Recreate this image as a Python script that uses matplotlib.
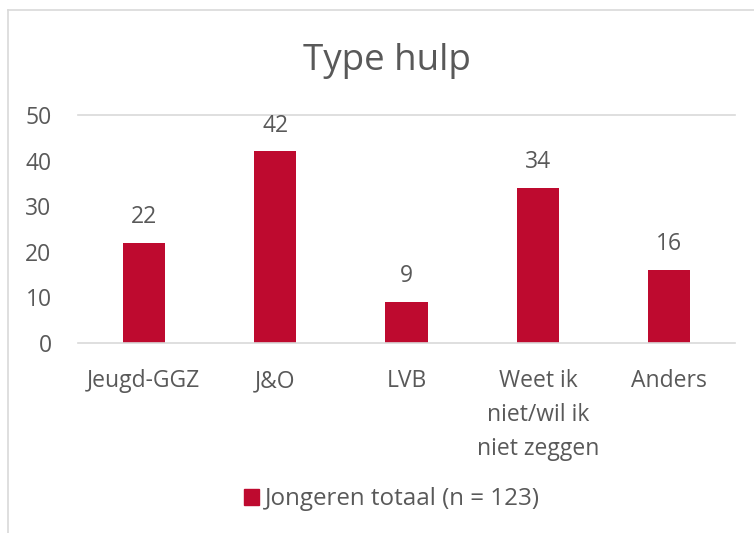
import matplotlib
matplotlib.use("Agg")
import matplotlib.pyplot as plt
from matplotlib.lines import Line2D
from matplotlib.patches import Patch

plt.rcParams["font.family"] = ["Open Sans", "DejaVu Sans"]

categories = ["Jeugd-GGZ", "J&O", "LVB", "Weet ik\nniet/wil ik\nniet zeggen", "Anders"]
values = [22, 42, 9, 34, 16]
series_name = "Jongeren totaal (n = 123)"
yticks = [0, 10, 20, 30, 40, 50]

BAR = "#BE0A2F"
TXT = "#595959"
GRID = "#d9d9d9"

fig = plt.figure(figsize=(7.54, 5.33), dpi=100)
ax = fig.add_axes([0.1034, 0.3565, 0.8714, 0.4277])

x = list(range(len(categories)))
bars = ax.bar(x, values, width=0.32, color=BAR, zorder=2)
for b, v in zip(bars, values):
    ax.annotate(str(v), (b.get_x() + b.get_width() / 2, v), xytext=(0, 10),
                textcoords="offset points", ha="center", va="bottom",
                fontsize=16.5, color=TXT)

ax.set_xlim(-0.5, len(categories) - 0.5)
ax.set_ylim(0, 50)
ax.set_yticks(yticks)
ax.set_xticks(x)
ax.set_xticklabels(categories, linespacing=1.55)
ax.tick_params(axis="both", length=0, labelsize=16.5, colors=TXT)
ax.tick_params(axis="y", pad=19)
ax.tick_params(axis="x", pad=19)

for s in ["left", "right"]:
    ax.spines[s].set_visible(False)
for s in ["top", "bottom"]:
    ax.spines[s].set_color(GRID)
    ax.spines[s].set_linewidth(1.2)

fig.text(0.513, 0.885, "Type hulp", ha="center", va="center", fontsize=26.5, color=TXT)

ax.legend([Patch(color=BAR)], [series_name], loc="center",
          bbox_to_anchor=(0.52, 0.063), bbox_transform=fig.transFigure,
          frameon=False, fontsize=17.4, labelcolor=TXT,
          handlelength=0.62, handleheight=0.62, handletextpad=0.25)

# chart border
fig.add_artist(Line2D([8 / 754, 8 / 754], [0, 1 - 10 / 533], color=GRID, lw=1.2))
fig.add_artist(Line2D([8 / 754, 1], [1 - 10 / 533, 1 - 10 / 533], color=GRID, lw=1.2))

fig.savefig("out.png", dpi=100)
